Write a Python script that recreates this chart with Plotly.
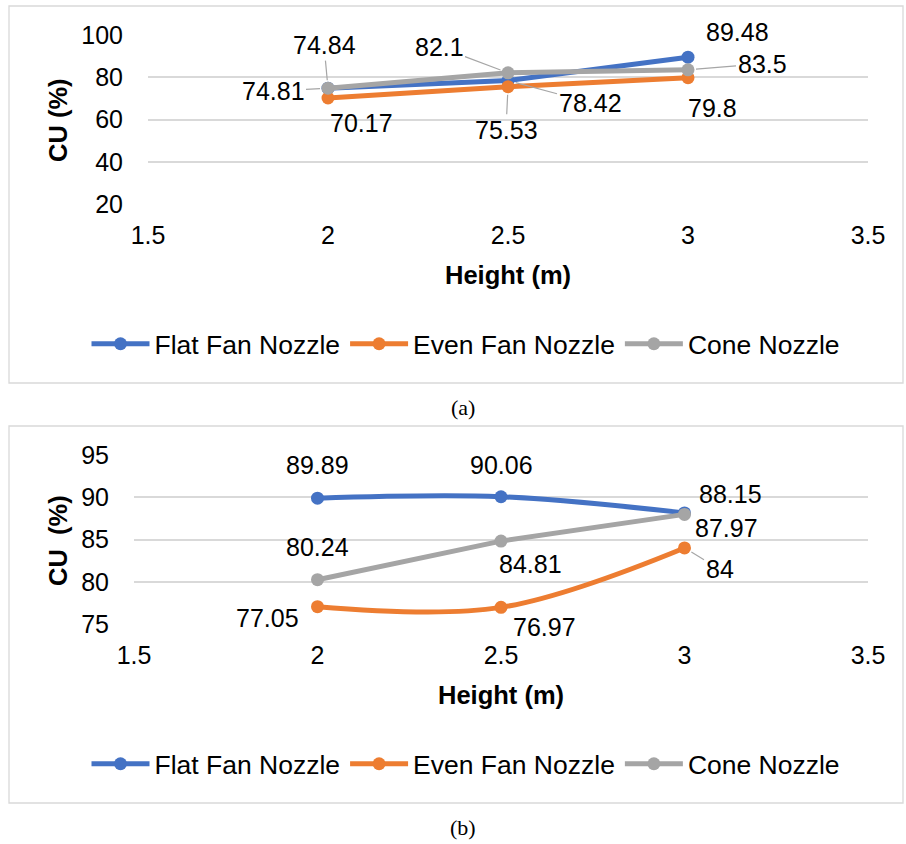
import plotly.graph_objects as go

# Nozzle height (m)
heights = [2, 2.5, 3]
series_names = ["Flat Fan Nozzle", "Even Fan Nozzle", "Cone Nozzle"]

# (a) coefficient of uniformity, CU (%)
cu_a_flat = [74.81, 78.42, 89.48]
cu_a_even = [70.17, 75.53, 79.8]
cu_a_cone = [74.84, 82.1, 83.5]

# (b) coefficient of uniformity, CU (%)
cu_b_flat = [89.89, 90.06, 88.15]
cu_b_even = [77.05, 76.97, 84]
cu_b_cone = [80.24, 84.81, 87.97]

x_ticks = [1.5, 2, 2.5, 3, 3.5]
y_ticks_a = [20, 40, 60, 80, 100]
y_ticks_b = [75, 80, 85, 90, 95]

colors = ["#4472C4", "#ED7D31", "#A5A5A5"]
FONT = "Liberation Sans, Arial, sans-serif"
SERIF = "Liberation Serif, Times New Roman, serif"
W, H = 906, 844


def px(x):
    return x / W


def py(y):
    return 1 - y / H


# label offsets (pixels, screen direction) and whether a leader line is drawn
label_pos_a = [
    [(-55, 3, True), (82, 22, True), (49, -25, False)],
    [(33, 25, False), (-2, 43, True), (24, 30, False)],
    [(-4, -43, True), (-69, -26, True), (74, -6, True)],
]
label_pos_b = [
    [(0, -33, False), (0, -32, False), (46, -19, False)],
    [(-50, 11, False), (43, 20, False), (35, 21, True)],
    [(0, -33, False), (29, 23, False), (42, 14, False)],
]

fig = go.Figure()

panels = [
    ("x", "y", "legend", [cu_a_flat, cu_a_even, cu_a_cone], ["linear"] * 3, label_pos_a),
    ("x2", "y2", "legend2", [cu_b_flat, cu_b_even, cu_b_cone], ["spline", "spline", "linear"], label_pos_b),
]

annotations = []
for xa, ya, leg, data, shapes_, positions in panels:
    for i, (name, vals) in enumerate(zip(series_names, data)):
        fig.add_trace(go.Scatter(
            x=heights, y=vals, name=name, mode="lines+markers",
            xaxis=xa, yaxis=ya, legend=leg,
            line=dict(color=colors[i], width=5, shape=shapes_[i], smoothing=1),
            marker=dict(color=colors[i], size=13),
            hoverinfo="skip",
        ))
        for j, (hx, v) in enumerate(zip(heights, vals)):
            dx, dy, leader = positions[i][j]
            base = dict(x=hx, y=v, xref=xa, yref=ya, text=f"{v:g}",
                        xanchor="center", yanchor="middle",
                        font=dict(family=FONT, size=25, color="#000000"))
            if leader:
                base.update(showarrow=True, ax=dx, ay=dy, arrowhead=0,
                            arrowwidth=1.2, arrowcolor="#A6A6A6", standoff=8)
            else:
                base.update(showarrow=False, xshift=dx, yshift=-dy)
            annotations.append(base)

axis_common = dict(
    showline=False, zeroline=False, ticks="", automargin=False,
    tickfont=dict(family=FONT, size=25, color="#000000"),
)

legend_common = dict(
    orientation="h", xanchor="center", yanchor="middle",
    font=dict(family=FONT, size=26.5, color="#000000"), itemwidth=58,
    bgcolor="rgba(0,0,0,0)",
)

fig.update_layout(
    width=W, height=H,
    margin=dict(l=0, r=0, t=0, b=0, autoexpand=False),
    paper_bgcolor="white", plot_bgcolor="white",
    xaxis=dict(domain=[px(148), px(868)], range=[1.5, 3.5], tickvals=x_ticks,
               showgrid=False, anchor="y", ticklabelstandoff=14, **axis_common),
    yaxis=dict(domain=[py(204), py(35)], range=[20, 100], tickvals=y_ticks_a,
               showgrid=True, gridcolor="#D9D9D9", gridwidth=1.5, anchor="x",
               ticklabelstandoff=24, **axis_common),
    xaxis2=dict(domain=[px(134), px(868)], range=[1.5, 3.5], tickvals=x_ticks,
                showgrid=False, anchor="y2", ticklabelstandoff=14, **axis_common),
    yaxis2=dict(domain=[py(624), py(455)], range=[75, 95], tickvals=y_ticks_b,
                showgrid=True, gridcolor="#D9D9D9", gridwidth=1.5, anchor="x2",
                ticklabelstandoff=24, **axis_common),
    legend=dict(x=px(466), y=py(344), **legend_common),
    legend2=dict(x=px(466), y=py(764), **legend_common),
    showlegend=True,
)


def paper_text(text, x, y, family=FONT, size=25, angle=0):
    return dict(text=text, x=px(x), y=py(y), xref="paper", yref="paper",
                xanchor="center", yanchor="middle", showarrow=False, textangle=angle,
                font=dict(family=family, size=size, color="#000000"))


# axis titles and captions
annotations += [
    paper_text("<b>Height (m)</b>", 508, 275, size=25.5),
    paper_text("<b>CU (%)</b>", 58, 120, size=25.5, angle=-90),
    paper_text("<b>Height (m)</b>", 501, 695, size=25.5),
    paper_text("<b>CU  (%)</b>", 58, 540, size=25.5, angle=-90),
    paper_text("(a)", 463, 407, family=SERIF, size=22),
    paper_text("(b)", 463, 827, family=SERIF, size=22),
]
fig.update_layout(annotations=annotations)

# chart-area borders
for top, bottom in [(6, 383), (426, 803)]:
    fig.add_shape(type="rect", xref="paper", yref="paper",
                  x0=px(9), x1=px(903), y0=py(bottom), y1=py(top),
                  line=dict(color="#D9D9D9", width=1.3), fillcolor="rgba(0,0,0,0)",
                  layer="below")

fig.write_html("out.html")
